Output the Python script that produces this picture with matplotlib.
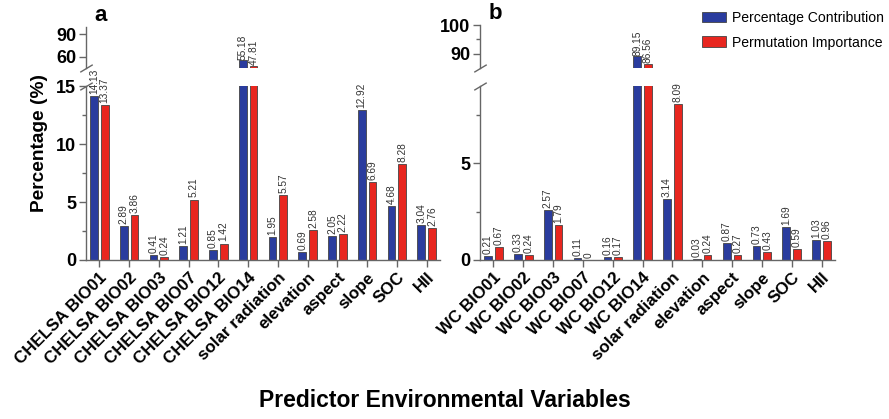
import numpy as np
import matplotlib
matplotlib.use("Agg")
import matplotlib.pyplot as plt
from matplotlib.patches import Patch

plt.rcParams['font.family'] = ['Liberation Sans', 'DejaVu Sans']

# panel a: CHELSA predictors
LABELS_A = ["CHELSA BIO01", "CHELSA BIO02", "CHELSA BIO03", "CHELSA BIO07",
            "CHELSA BIO12", "CHELSA BIO14", "solar radiation", "elevation",
            "aspect", "slope", "SOC", "HII"]
PC_A = [14.13, 2.89, 0.41, 1.21, 0.85, 55.18, 1.95, 0.69, 2.05, 12.92, 4.68, 3.04]
PI_A = [13.37, 3.86, 0.24, 5.21, 1.42, 47.81, 5.57, 2.58, 2.22, 6.69, 8.28, 2.76]

# panel b: WorldClim predictors
LABELS_B = ["WC BIO01", "WC BIO02", "WC BIO03", "WC BIO07", "WC BIO12",
            "WC BIO14", "solar radiation", "elevation", "aspect", "slope",
            "SOC", "HII"]
PC_B = [0.21, 0.33, 2.57, 0.11, 0.16, 89.15, 3.14, 0.03, 0.87, 0.73, 1.69, 1.03]
PI_B = [0.67, 0.24, 1.79, 0.0, 0.17, 86.56, 8.09, 0.24, 0.27, 0.43, 0.59, 0.96]

BLUE = "#2a3c9e"
RED = "#e8261f"
EDGE = "#444444"
SPINE = "#666666"

W, H = 889, 419
fig = plt.figure(figsize=(W / 100, H / 100), dpi=100)


def rect(l, r, top, bot):
    return [l / W, 1 - bot / H, (r - l) / W, (bot - top) / H]


def style(ax):
    for s in ("top", "right"):
        ax.spines[s].set_visible(False)
    for s in ("left", "bottom"):
        ax.spines[s].set_color(SPINE)
        ax.spines[s].set_linewidth(1.0)
    ax.tick_params(axis="y", which="major", length=5, width=1, color=SPINE,
                   labelsize=13, pad=2)
    ax.tick_params(axis="y", which="minor", length=3, width=1, color=SPINE)
    for t in ax.get_yticklabels():
        t.set_fontweight("bold")


def bars(ax, pc, pi, lim):
    x = np.arange(len(pc))
    w, off = 0.26, 0.18
    for vals, dx, col in ((pc, -off, BLUE), (pi, off, RED)):
        ax.bar(x + dx, vals, w, color=col, edgecolor=EDGE, linewidth=0.6)
        for xi, v in zip(x, vals):
            if lim[0] <= v <= lim[1] or (v > lim[1] and lim[1] > 50):
                ax.text(xi + dx, v + (lim[1] - lim[0]) * 0.012, f"{v:g}",
                        rotation=90, ha="center", va="bottom", fontsize=7.3,
                        color="#333333", clip_on=False)
    ax.set_xlim(-0.45, 11.45)
    ax.set_ylim(*lim)


def brk(ax, y):
    ax.plot([0], [y], transform=ax.transAxes, marker=[(-1, -0.6), (1, 0.6)],
            markersize=9, linestyle="none", color=SPINE, mec=SPINE, mew=1,
            clip_on=False)


def panel(left, right, low_top, up_bot, up_top, pc, pi, labels,
          lo_lim, up_lim, lo_ticks, lo_minor, up_ticks, up_minor, letter):
    lo = fig.add_axes(rect(left, right, low_top, 260))
    up = fig.add_axes(rect(left, right, up_top, up_bot))
    bars(lo, pc, pi, lo_lim)
    bars(up, pc, pi, up_lim)
    lo.set_yticks(lo_ticks)
    lo.set_yticks(lo_minor, minor=True)
    up.set_yticks(up_ticks)
    up.set_yticks(up_minor, minor=True)
    style(lo)
    style(up)
    up.spines["bottom"].set_visible(False)
    up.set_xticks([])
    lo.set_xticks(np.arange(len(labels)))
    lo.set_xticklabels(labels, rotation=45, ha="right", rotation_mode="anchor",
                       fontsize=12.2, fontweight="bold")
    lo.tick_params(axis="x", length=5, width=1, color=SPINE, pad=2)
    brk(lo, 1.0)
    brk(up, 0.0)
    up.text(0.025, 1.02, letter, transform=up.transAxes, fontsize=16,
            fontweight="bold", va="bottom", ha="left")
    return lo, up


lo_a, up_a = panel(86, 440, 86, 68, 27, PC_A, PI_A, LABELS_A,
                   (0, 15), (45, 100), [0, 5, 10, 15], [2.5, 7.5, 12.5],
                   [60, 90], [], "a")
lo_b, up_b = panel(480, 835, 86, 68, 25, PC_B, PI_B, LABELS_B,
                   (0, 9), (85, 100), [0, 5], [2.5, 7.5],
                   [90, 100], [95], "b")

fig.text(40 / W, 1 - 143 / H, "Percentage (%)", rotation=90, ha="center",
         va="center", fontsize=13.8, fontweight="bold")
fig.text(445 / W, 1 - 400 / H, "Predictor Environmental Variables",
         ha="center", va="center", fontsize=16.5, fontweight="bold")

# legend
handles = [Patch(facecolor=BLUE, edgecolor=EDGE, linewidth=0.6),
           Patch(facecolor=RED, edgecolor=EDGE, linewidth=0.6)]
fig.legend(handles, ["Percentage Contribution", "Permutation Importance"],
           loc="upper left", bbox_to_anchor=(702 / W, 1 - 11 / H), frameon=False,
           fontsize=10.1, handlelength=1.7, handleheight=0.75, handletextpad=0.45,
           labelspacing=0.75, borderaxespad=0, borderpad=0)

fig.savefig("out.png", dpi=100)
